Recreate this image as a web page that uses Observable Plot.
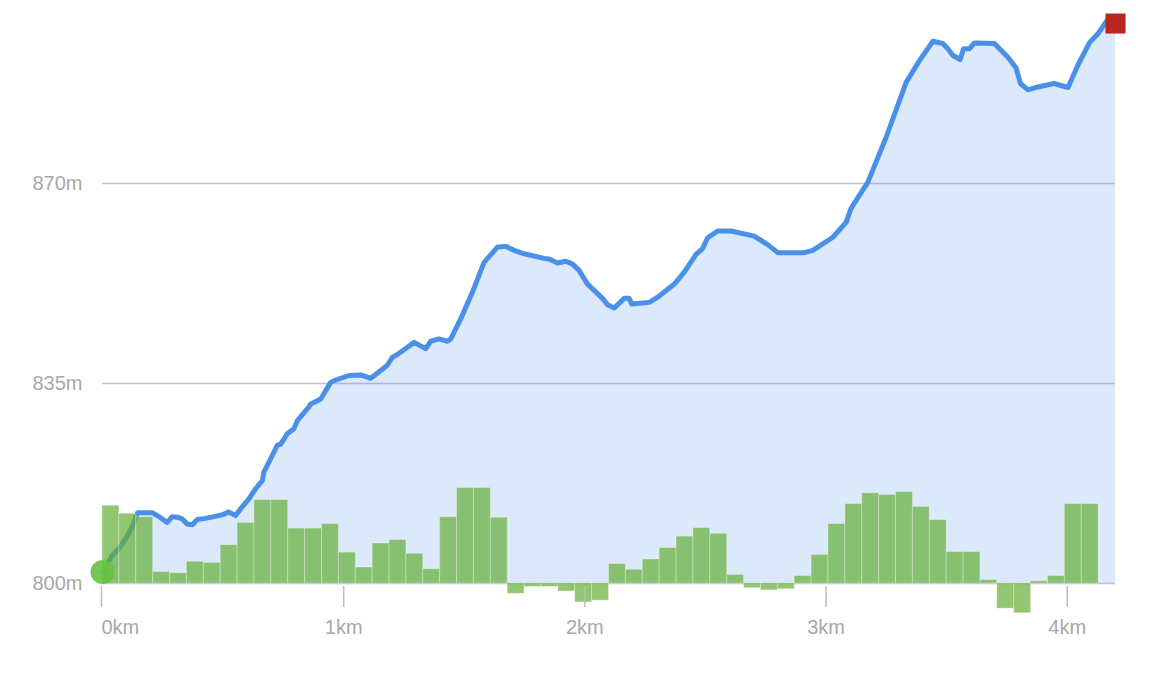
<!DOCTYPE html>
<html>
<head>
<meta charset="utf-8">
<script src="https://cdn.jsdelivr.net/npm/d3@7"></script>
<script src="https://cdn.jsdelivr.net/npm/@observablehq/plot@0.6"></script>
<style>
  html, body { margin: 0; padding: 0; background: #fff; }
  #chart svg { display: block; }
</style>
</head>
<body>
<div id="chart"></div>
<script>
// Profile distance (km) and elevation (m)
const distKm = [0.000,0.020,0.040,0.068,0.095,0.123,0.146,0.206,0.238,0.268,0.289,0.310,0.331,0.351,0.372,0.393,0.427,0.462,0.503,0.522,0.552,0.573,0.607,0.635,0.663,0.669,0.697,0.725,0.739,0.766,0.794,0.808,0.856,0.863,0.891,0.905,0.946,0.960,1.022,1.071,1.112,1.181,1.202,1.223,1.250,1.292,1.340,1.361,1.395,1.430,1.444,1.485,1.534,1.582,1.638,1.672,1.707,1.748,1.831,1.852,1.887,1.921,1.949,1.976,2.011,2.073,2.094,2.122,2.163,2.184,2.194,2.267,2.302,2.371,2.412,2.461,2.488,2.509,2.551,2.606,2.702,2.758,2.800,2.910,2.945,3.028,3.083,3.104,3.173,3.249,3.332,3.387,3.443,3.484,3.505,3.526,3.556,3.570,3.595,3.615,3.698,3.754,3.788,3.806,3.837,3.878,3.945,4.003,4.044,4.093,4.127,4.169,4.200];
const elevM = [802.0,803.4,804.9,806.1,807.8,809.9,812.4,812.4,811.6,810.7,811.7,811.6,811.3,810.4,810.3,811.2,811.4,811.7,812.1,812.5,811.9,813.1,814.8,816.6,818.0,819.5,821.8,824.2,824.4,826.2,827.1,828.5,830.9,831.4,832.0,832.3,835.2,835.5,836.4,836.5,835.9,838.2,839.6,840.1,840.9,842.2,841.1,842.4,842.8,842.4,842.8,846.3,851.0,856.2,858.9,859.0,858.3,857.7,856.9,856.8,856.1,856.4,855.9,854.8,852.4,849.9,848.8,848.2,849.9,849.9,848.9,849.2,850.1,852.4,854.5,857.6,858.6,860.5,861.7,861.7,860.8,859.3,857.9,857.9,858.3,860.6,863.2,865.7,870.2,878.1,887.7,891.5,894.9,894.5,893.6,892.4,891.7,893.6,893.6,894.6,894.5,892.1,890.2,887.5,886.4,886.9,887.5,886.8,890.7,894.7,896.2,898.8,898.0];

// Gradient per 70 m segment (%)
const segmentKm = 0.07;
const gradePct = [6.8,6.1,5.8,1.0,0.9,1.9,1.8,3.35,5.3,7.3,7.3,4.8,4.8,5.2,2.7,1.4,3.5,3.8,2.6,1.25,5.8,8.35,8.35,5.75,-0.9,-0.3,-0.3,-0.7,-1.65,-1.5,1.7,1.2,2.1,3.1,4.1,4.85,4.35,0.75,-0.4,-0.6,-0.5,0.65,2.5,5.2,6.95,7.9,7.75,8.0,6.7,5.55,2.75,2.75,0.3,-2.2,-2.6,0.2,0.65,6.95,6.95];
const gradeToMetres = 2; // bar scaling onto the elevation axis

const yTicks = [800, 835, 870];
const xTicks = [0, 1, 2, 3, 4];
const baseElev = 800;

const profile = distKm.map((d, i) => ({d, e: elevM[i]}));
const bars = gradePct.map((g, i) => ({x1: i * segmentKm, x2: (i + 1) * segmentKm, y2: baseElev + g * gradeToMetres}));
const start = [profile[0]];
const end = [profile[profile.length - 1]];

const lineColor = "#4a8fe8";
const axisText = "#a8a8a8";

const chart = Plot.plot({
  width: 1156,
  height: 674,
  marginLeft: 102,
  marginRight: 41,
  marginTop: 11.6,
  marginBottom: 91,
  style: {fontFamily: "'Liberation Sans', Arial, Helvetica, sans-serif", fontSize: "20px", background: "#fff", overflow: "visible"},
  x: {domain: [0, 4.2]},
  y: {domain: [800, 900]},
  marks: [
    Plot.ruleY(yTicks, {stroke: "#c4c4c4", strokeWidth: 1.5}),
    Plot.areaY(profile, {x: "d", y1: baseElev, y2: "e", fill: lineColor, fillOpacity: 0.2}),
    Plot.line(profile, {x: "d", y: "e", stroke: lineColor, strokeWidth: 5, strokeLinejoin: "round", strokeLinecap: "round"}),
    Plot.rectY(bars, {x1: "x1", x2: "x2", y1: baseElev, y2: "y2", fill: "#64ae35", fillOpacity: 0.7, stroke: "#ffffff", strokeOpacity: 0.3, strokeWidth: 1}),
    Plot.dot(start, {x: "d", y: "e", r: 12, fill: "#66c23f", fillOpacity: 0.9, stroke: null}),
    Plot.dot(end, {x: "d", y: "e", r: 11.3, symbol: "square", fill: "#b8261e", stroke: null}),
    Plot.axisY(yTicks, {tickSize: 0, tickPadding: 20, fontSize: 20, tickFormat: d => d + "m", color: axisText, label: null}),
    Plot.axisX([0], {tickSize: 21, dy: 3, tickPadding: 12, fontSize: 20, textAnchor: "start", dx: -1, stroke: "#bdbdbd", strokeWidth: 1.5, color: axisText, tickFormat: d => d + "km", label: null}),
    Plot.axisX(xTicks.slice(1), {tickSize: 21, dy: 3, tickPadding: 12, fontSize: 20, stroke: "#bdbdbd", strokeWidth: 1.5, color: axisText, tickFormat: d => d + "km", label: null})
  ]
});
document.getElementById("chart").appendChild(chart);
</script>
</body>
</html>
